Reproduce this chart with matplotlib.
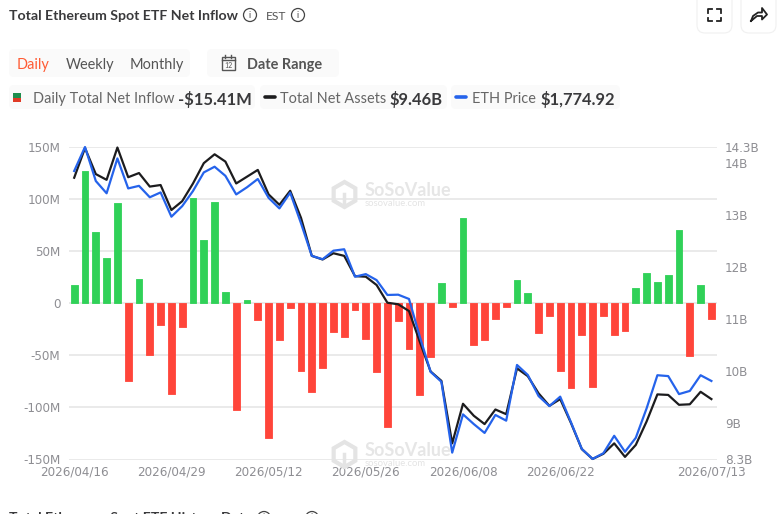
import matplotlib
matplotlib.use('Agg')
import matplotlib.pyplot as plt
from matplotlib.patches import Circle, FancyBboxPatch, Rectangle, RegularPolygon

# daily net inflow, $M
net_inflow = [18, 127, 68, 43, 96, -75, 23, -50, -21, -87,
              -23, 101, 61, 97, 11, -102, 3, -16, -129, -35,
              -5, -65, -85, -62, -28, -32, -6, -34, -66, -119,
              -17, -44, -88, -52, 19, -4, 82, -40, -35, -15,
              -4, 22, 10, -29, -12, -65, -81, -30, -80, -12,
              -30, -27, 15, 29, 20, 27, 70, -51, 18, -15.41]

# total net assets, $B
net_assets = [13.71, 14.28, 13.78, 13.67, 14.29, 13.72, 13.80, 13.54, 13.57, 13.09,
              13.26, 13.60, 13.99, 14.16, 14.02, 13.60, 13.73, 13.86, 13.39, 13.19,
              13.46, 12.94, 12.21, 12.14, 12.26, 12.21, 11.82, 11.81, 11.65, 11.31,
              11.28, 11.15, 10.56, 9.99, 9.81, 8.61, 9.37, 9.14, 8.98, 9.26,
              9.17, 10.05, 9.90, 9.57, 9.33, 9.46, 9.00, 8.50, 8.31, 8.41,
              8.61, 8.35, 8.58, 9.03, 9.55, 9.54, 9.35, 9.36, 9.60, 9.46]

# ETH price, $
eth_price = [2510, 2594, 2475, 2432, 2554, 2449, 2458, 2418, 2435, 2350,
             2387, 2440, 2505, 2525, 2493, 2428, 2453, 2482, 2416, 2379,
             2434, 2327, 2213, 2201, 2231, 2236, 2140, 2149, 2128, 2076,
             2077, 2062, 1930, 1807, 1772, 1524, 1658, 1624, 1593, 1656,
             1636, 1831, 1796, 1722, 1687, 1720, 1630, 1537, 1502, 1522,
             1583, 1527, 1576, 1679, 1795, 1792, 1729, 1740, 1795, 1774.92]

date_ticks = [0, 9, 18, 27, 36, 45, 59]
date_labels = ['2026/04/16', '2026/04/29', '2026/05/12', '2026/05/26',
               '2026/06/08', '2026/06/22', '2026/07/13']
left_ticks = [-150, -100, -50, 0, 50, 100, 150]
left_labels = ['-150M', '-100M', '-50M', '0', '50M', '100M', '150M']
right_ticks = [8.3, 9, 10, 11, 12, 13, 14, 14.3]
right_labels = ['8.3B', '9B', '10B', '11B', '12B', '13B', '14B', '14.3B']

W, H = 779, 514
GREEN, RED = '#30d158', '#ff453a'
BLACK, BLUE = '#1c1c1e', '#2563eb'
TICK = '#8e8e93'
PX = 0.72  # pixels to points at dpi 100

fig = plt.figure(figsize=(W / 100, H / 100), dpi=100)

# overlay in pixel coordinates for the page furniture
bg = fig.add_axes([0, 0, 1, 1], zorder=0)
bg.set_xlim(0, W)
bg.set_ylim(H, 0)
bg.axis('off')
top = fig.add_axes([0, 0, 1, 1], zorder=10)
top.set_xlim(0, W)
top.set_ylim(H, 0)
top.axis('off')
top.patch.set_alpha(0)


def pill(x0, y0, x1, y1, color='#fafafa', edge='none', r=5):
    bg.add_patch(FancyBboxPatch((x0 + r, y0 + r), x1 - x0 - 2 * r, y1 - y0 - 2 * r,
                                boxstyle=f'round,pad={r},rounding_size={r}',
                                fc=color, ec=edge, lw=0.8))


def label(x, y, s, size, color='#555555', weight='normal', ha='left'):
    bg.text(x, y, s, fontsize=size * PX, color=color, fontweight=weight,
            family='Lato', ha=ha, va='center_baseline', clip_on=False)


def info(x, y):
    bg.add_patch(Circle((x, y), 6.5, fc='none', ec='#444444', lw=0.9))
    bg.text(x, y, 'i', fontsize=9 * PX, color='#444444', family='Lato',
            ha='center', va='center')


# header
label(9, 15.5, 'Total Ethereum Spot ETF Net Inflow', 14.1, '#3a3a3c', 'bold')
info(250, 15)
label(266, 15.5, 'EST', 12, '#555555')
info(298, 15)

pill(697, -12, 732, 33, '#ffffff', '#f0f0f0', 8)
pill(741, -12, 776, 33, '#ffffff', '#f0f0f0', 8)
for cx, cy, dx, dy in [(708, 9, 1, 1), (721, 9, -1, 1), (708, 21, 1, -1), (721, 21, -1, -1)]:
    bg.plot([cx + 4 * dx, cx, cx], [cy, cy, cy + 3.5 * dy], color='#222222', lw=1.3)
bg.plot([751, 753, 758, 762, 762, 767, 762, 762, 757, 751],
        [21, 16, 12.5, 12.5, 8, 14.5, 19.5, 16, 16, 21], color='#222222', lw=1.3)

pill(9, 49, 190, 77)
label(17, 63.5, 'Daily', 14.5, '#ff5c35')
label(66, 63.5, 'Weekly', 14.5, '#555555')
label(129.5, 63.5, 'Monthly', 14.5, '#555555')
pill(207, 49, 339, 77)
bg.add_patch(Rectangle((222, 56.5), 13, 13.5, fc='none', ec='#555555', lw=1))
bg.plot([222, 235], [59.5, 59.5], color='#555555', lw=1)
bg.plot([225.5, 225.5], [55, 58], color='#555555', lw=1)
bg.plot([231.5, 231.5], [55, 58], color='#555555', lw=1)
bg.text(228.5, 65, '12', fontsize=7 * PX, color='#555555', family='Lato', ha='center', va='center')
label(247, 63.5, 'Date Range', 14.5, '#555555', 'bold')

# legend row
pill(9, 85, 255, 109)
pill(260, 85, 447, 109)
pill(451, 85, 620, 109)
bg.add_patch(Rectangle((13, 93), 8, 4.5, fc='#1e8e4e', ec='none'))
bg.add_patch(Rectangle((13, 97.5), 8, 4.5, fc='#e03a26', ec='none'))
label(33, 97.5, 'Daily Total Net Inflow', 14.5, '#666666')
label(178, 97.5, '-$15.41M', 16.5, '#3a3a3c', 'bold')
bg.plot([265.5, 275.5], [96.5, 96.5], color=BLACK, lw=3 * PX * 1.2, solid_capstyle='round')
label(280.5, 97.5, 'Total Net Assets', 14.5, '#666666')
label(390, 97.5, '$9.46B', 16.5, '#3a3a3c', 'bold')
bg.plot([456.5, 466.5], [96.5, 96.5], color=BLUE, lw=3 * PX * 1.2, solid_capstyle='round')
label(472, 97.5, 'ETH Price', 14.5, '#666666')
label(541, 97.5, '$1,774.92', 16.5, '#3a3a3c', 'bold')

# next panel, cut off by the bottom edge
label(9, 517.5, 'Total Ethereum Spot ETF History Data', 14.1, '#3a3a3c', 'bold')
info(264, 518)
label(280, 517.5, 'EST', 12, '#555555')
info(312, 518)

# chart
ax = fig.add_axes([68.8 / W, 1 - 459.5 / H, 648 / W, 312.5 / H], zorder=2)
ax.patch.set_alpha(0)
xs = list(range(len(net_inflow)))
colors = [GREEN if v >= 0 else RED for v in net_inflow]
ax.bar(xs, net_inflow, width=0.62, color=colors, edgecolor=colors, linewidth=0.6,
       joinstyle='round', zorder=2)
ax.set_xlim(-0.5, 59.5)
ax.set_ylim(-150, 150)
ax.set_yticks(left_ticks, left_labels)
ax.set_xticks(date_ticks, date_labels)
ax.grid(axis='y', color='#e8e8e8', lw=1.3)
ax.set_axisbelow(True)
ax.tick_params(length=0, labelsize=12 * PX, labelcolor=TICK)
ax.tick_params(axis='y', pad=6)
ax.tick_params(axis='x', pad=4.5)
for s in ax.spines.values():
    s.set_visible(False)

ax2 = ax.twinx()
ax2.plot(xs, net_assets, color=BLACK, lw=1.6, zorder=3, clip_on=False)
ax2.set_ylim(8.3, 14.3)
ax2.set_yticks(right_ticks, right_labels)
ax2.tick_params(length=0, labelsize=12 * PX, labelcolor=TICK, pad=6)
for s in ax2.spines.values():
    s.set_visible(False)

ax3 = ax.twinx()
ax3.plot(xs, eth_price, color=BLUE, lw=1.6, zorder=4, clip_on=False)
ax3.set_ylim(1500, 2594)
ax3.axis('off')

# watermarks
for dy in [0, 260]:
    top.add_patch(RegularPolygon((344.5, 194.5 + dy), 6, radius=12.5, fc='none',
                                 ec='#e4e4e4', lw=3))
    top.plot([344.5, 344.5], [194 + dy, 206 + dy], color='#e4e4e4', lw=2.5)
    top.text(364.5, 191 + dy, 'SoSoValue', fontsize=18 * PX, color='#e0e0e0', alpha=0.8,
             fontweight='bold', family='Lato', va='center')
    top.text(365, 203.5 + dy, 'sosovalue.com', fontsize=9.5 * PX, color='#e4e4e4',
             family='Lato', va='center')

fig.savefig('out.png', dpi=100)
